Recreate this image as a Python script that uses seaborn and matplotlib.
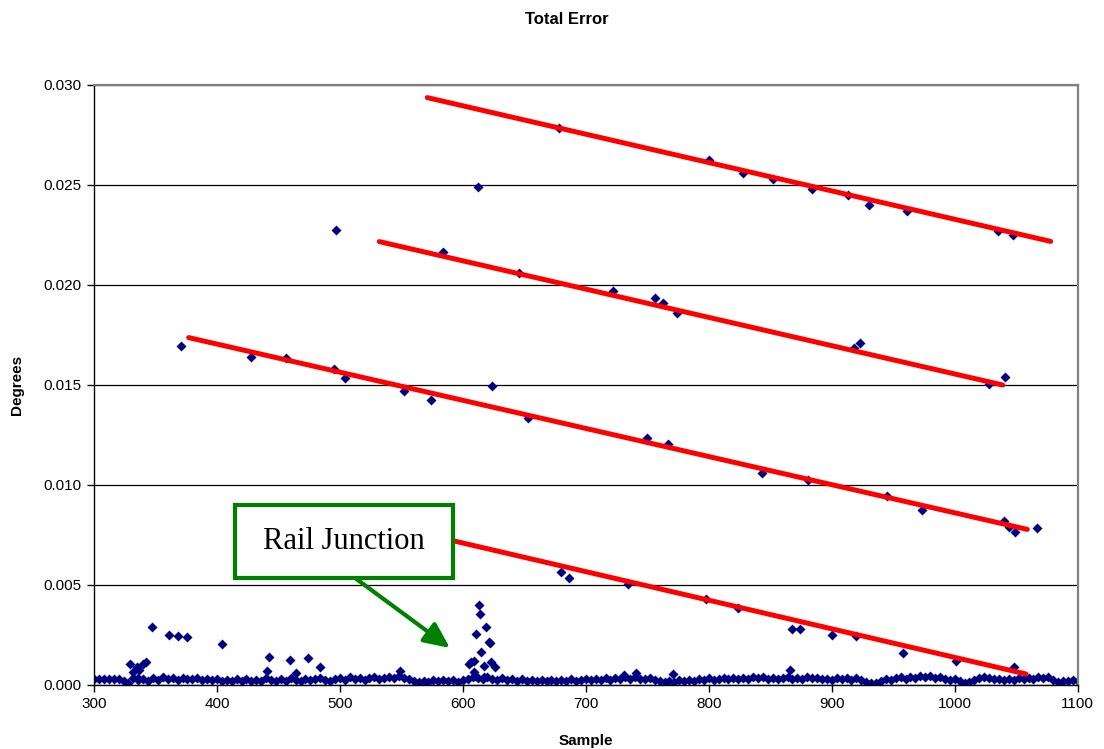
import numpy as np
import pandas as pd
import matplotlib
matplotlib.use("Agg")
import matplotlib.pyplot as plt
import seaborn as sns
from matplotlib.patches import Rectangle
from matplotlib.ticker import FormatStrFormatter

# baseline noise, one value every 4 samples from 300 to 1100 (units of 1e-4 degrees)
baseline_samples = np.arange(300, 1101, 4)
baseline_e4 = [
    2.8, 3.0, 3.1, 3.0, 3.2, 2.9,
    2.0, 1.2, 3.5, 2.5, 3.0, 2.2,
    3.4, 2.6, 3.8, 2.9, 3.3, 2.7, 3.6, 3.0, 2.8, 3.5, 2.6, 3.2,
    2.4, 3.1, 1.8, 2.5, 1.9, 2.8, 2.2, 3.0, 2.0, 2.7,
    2.1, 3.4, 2.5, 1.9, 3.0, 2.2, 3.6, 2.4, 1.8, 3.1,
    2.3, 2.9, 3.7, 2.5, 2.0, 2.8, 3.3, 2.6, 3.9, 3.0,
    3.4, 2.7, 3.5, 4.0, 3.1, 3.6, 4.2, 3.4, 4.5, 3.6,
    2.8, 2.2, 1.6, 2.1, 1.5, 2.4, 1.8, 2.6, 1.9, 2.5,
    1.7, 2.3, 3.2, 4.0, 3.5, 3.0, 4.2, 3.1, 2.6, 3.4,
    2.4, 2.9, 2.2, 3.1, 2.0, 2.6, 1.8, 2.4, 2.0, 2.7,
    2.1, 2.5, 1.9, 2.8, 2.2, 2.6, 3.0, 2.4, 3.2, 2.7,
    3.3, 2.6, 3.5, 2.9, 3.8, 3.1, 4.0, 3.2, 2.8, 3.6,
    2.5, 2.0, 1.6, 2.2, 1.5, 2.4, 1.8, 2.6, 2.2, 3.0,
    2.5, 3.3, 2.7, 3.1, 3.5, 2.9, 3.4, 2.8, 3.7, 3.2,
    4.0, 3.4, 3.8, 3.0, 3.5, 2.8, 3.3, 4.2, 3.0, 3.6,
    3.1, 3.8, 3.3, 3.6, 2.8, 3.2, 2.6, 3.4, 2.9, 3.3,
    2.7, 3.5, 2.6, 1.6, 0.8, 1.2, 2.2, 3.0, 2.6, 3.3,
    3.8, 3.0, 4.2, 3.5, 4.6, 3.8, 4.3, 3.6, 4.0, 3.2,
    2.6, 3.0, 1.8, 1.2, 1.6, 2.5, 3.4, 4.0, 3.3, 2.8,
    3.2, 2.5, 3.0, 2.4, 3.6, 2.9, 3.3, 3.0, 4.0, 3.4,
    4.2, 2.5, 1.4, 2.2, 1.8, 2.6, 2.0,
]

# scattered error points
outlier_samples = [
    678, 800, 828, 852, 884, 913, 930, 961, 1035, 1047,
    612, 497,
    584, 646, 722, 756, 763, 774, 918, 923, 1028, 1041,
    371, 428, 456, 495, 504, 552, 574, 624, 653, 750, 767, 843, 881, 945, 973,
    1040, 1044, 1049, 1067,
    680, 686, 734, 798, 824, 868, 874, 900, 920, 958, 1001, 1048,
    347, 361, 368, 376, 404, 442, 459, 474, 484, 464, 441,
    329, 332, 335, 337, 340, 342, 336,
    613, 614, 619, 611, 621, 622, 615, 607, 605, 609, 617, 623, 626, 609, 617, 610,
    549, 731, 741, 771, 866,
]
outlier_degrees = [
    0.02783, 0.02625, 0.02562, 0.02528, 0.02478, 0.02450, 0.02402, 0.02370, 0.02272, 0.02248,
    0.02488, 0.02275,
    0.02167, 0.02062, 0.01972, 0.01935, 0.01908, 0.01862, 0.01683, 0.01708, 0.01505, 0.01538,
    0.01695, 0.01642, 0.01633, 0.01578, 0.01537, 0.01472, 0.01427, 0.01493, 0.01333, 0.01233,
    0.01205, 0.01058, 0.01027, 0.00945, 0.00875,
    0.00820, 0.00792, 0.00767, 0.00783,
    0.00563, 0.00537, 0.00505, 0.00430, 0.00383, 0.00278, 0.00278, 0.00248, 0.00245, 0.00160,
    0.00122, 0.00088,
    0.00288, 0.00252, 0.00247, 0.00242, 0.00205, 0.00142, 0.00125, 0.00137, 0.00092, 0.00058,
    0.00072,
    0.00103, 0.00067, 0.00092, 0.00075, 0.00105, 0.00117, 0.00033,
    0.00400, 0.00353, 0.00288, 0.00253, 0.00217, 0.00212, 0.00167, 0.00117, 0.00105, 0.00122,
    0.00097, 0.00117, 0.00092, 0.00067, 0.00038, 0.00045,
    0.00070, 0.00050, 0.00062, 0.00055, 0.00075,
]

# hand drawn trend lines (start / end)
trend_x_start = [571, 532, 377, 560]
trend_x_end = [1078, 1039, 1059, 1058]
trend_y_start = [0.02937, 0.02217, 0.01737, 0.00767]
trend_y_end = [0.02218, 0.01500, 0.00778, 0.00055]

points = pd.DataFrame({
    "sample": list(baseline_samples) + outlier_samples,
    "degrees": [v * 1e-4 for v in baseline_e4] + outlier_degrees,
})
trends = pd.DataFrame({
    "trend": [i for i in range(4) for _ in range(2)],
    "sample": [v for pair in zip(trend_x_start, trend_x_end) for v in pair],
    "degrees": [v for pair in zip(trend_y_start, trend_y_end) for v in pair],
})

sns.set_style("white")
plt.rcParams["font.family"] = ["Liberation Sans", "DejaVu Sans"]
plt.rcParams["text.color"] = "black"
plt.rcParams["xtick.color"] = "black"
plt.rcParams["ytick.color"] = "black"
plt.rcParams["axes.labelcolor"] = "black"

W, H = 1104, 749
fig = plt.figure(figsize=(W / 100, H / 100), dpi=100)
ax = fig.add_axes([94 / W, 64 / H, 983.7 / W, 600 / H])

sns.scatterplot(data=points, x="sample", y="degrees", marker="D", color="#000080",
                s=26, linewidth=0, ax=ax, zorder=2)
sns.lineplot(data=trends, x="sample", y="degrees", units="trend", estimator=None,
             sort=False, color="#ff0000", linewidth=3.6, ax=ax, legend=False, zorder=3)

ax.set_xlim(300, 1100)
ax.set_ylim(0, 0.030)
ax.set_xticks(range(300, 1101, 100))
ax.set_yticks(np.arange(0, 0.0301, 0.005))
ax.yaxis.set_major_formatter(FormatStrFormatter("%.3f"))
ax.grid(axis="y", color="black", linewidth=0.9)
ax.set_axisbelow(True)
ax.tick_params(axis="both", direction="out", length=5, width=1, color="black",
               labelcolor="black", labelsize=11, pad=4, left=True, bottom=True)
for side in ["left", "bottom"]:
    ax.spines[side].set_color("black")
    ax.spines[side].set_linewidth(1.0)
for side in ["top", "right"]:
    ax.spines[side].set_color("#808080")
    ax.spines[side].set_linewidth(1.6)
ax.set_xlabel("")
ax.set_ylabel("")

# callout
ax.add_patch(Rectangle((414.7, 0.00535), 177.3, 0.00365, facecolor="white",
                       edgecolor="#008000", linewidth=3, zorder=5))
ax.text(503.3, 0.00718, "Rail Junction", ha="center", va="center", fontsize=22,
        color="black", family=["Liberation Serif", "DejaVu Serif"], zorder=6)
ax.annotate("", xy=(589.5, 0.00185), xytext=(512.3, 0.00535),
            arrowprops=dict(arrowstyle="-|>,head_length=1.3,head_width=0.6",
                            color="#008000", lw=3, shrinkA=0, shrinkB=0,
                            mutation_scale=12),
            zorder=4)

fig.text(567 / W, 1 - 20 / H, "Total Error", ha="center", va="center",
         fontsize=12, fontweight="bold", color="black")
fig.text(586 / W, 1 - 741 / H, "Sample", ha="center", va="center",
         fontsize=11, fontweight="bold", color="black")
fig.text(17 / W, 1 - 385 / H, "Degrees", ha="center", va="center", rotation=90,
         fontsize=11, fontweight="bold", color="black")

fig.savefig("out.png", dpi=100)
